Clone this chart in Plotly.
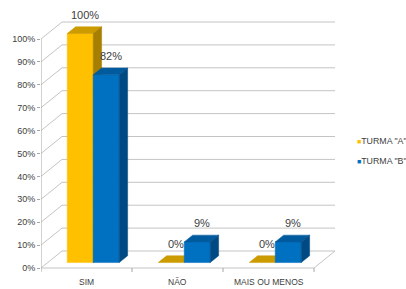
import plotly.graph_objects as go

# ---- data ----
categories = ["SIM", "NÃO", "MAIS OU MENOS"]
series_names = ['TURMA "A"', 'TURMA "B"']
turma_a = [100, 0, 0]
turma_b = [82, 9, 9]
y_ticks = [0, 10, 20, 30, 40, 50, 60, 70, 80, 90, 100]
y_tick_labels = [f"{v}%" for v in y_ticks]
series_values = [turma_a, turma_b]

# ---- style ----
front_colors = ["#FFC000", "#0070C0"]
top_colors = ["#CC9B00", "#005A9E"]
side_colors = ["#A77F00", "#004A84"]
grid_color = "#C4C4C4"
axis_color = "#A6A6A6"
text_color = "#404040"
FONT = "Liberation Sans, Arial, sans-serif"

PXX, PXY = 91.0, 2.29          # pixels per axis unit
ML, MR, MT, MB = 41, 60, 12, 1
W, H = 406, 289
plot_w = W - ML - MR
plot_h = H - MT - MB
y_lo = -(H - MB - 268) / PXY
y_hi = y_lo + plot_h / PXY
x_hi = plot_w / PXX

DX, DY = 21 / PXX, 17 / PXY    # full depth of the 3D box (axis units)
F0, F1 = 0.32, 0.72            # bar front / back depth fractions
BAR_W = 26 / PXX
GROUP_START = 0.5 - BAR_W

n = len(categories)
traces = []

# back-wall gridlines and side-wall diagonals
gx, gy = [], []
for v in y_ticks:
    gx += [DX, n + DX, None, 0, DX, None]
    gy += [v + DY, v + DY, None, v, v + DY, None]
# floor edges
gx += [0, n, n + DX, None]
gy += [0, 0, DY, None]
traces.append(go.Scatter(x=gx, y=gy, mode="lines", line=dict(color=grid_color, width=1),
                         hoverinfo="skip", showlegend=False))
# front value axis and category ticks
ax, ay = [0, 0, None], [0, y_ticks[-1], None]
for k in range(n + 1):
    ax += [k, k, None]
    ay += [0, -4 / PXY, None]
traces.append(go.Scatter(x=ax, y=ay, mode="lines", line=dict(color=axis_color, width=1),
                         hoverinfo="skip", showlegend=False))


def poly(xs, ys, color):
    return go.Scatter(x=xs + [xs[0]], y=ys + [ys[0]], mode="lines", fill="toself",
                      fillcolor=color, line=dict(color=color, width=0.5),
                      hoverinfo="skip", showlegend=False)


annotations = []
bdx, bdy = (F1 - F0) * DX, (F1 - F0) * DY
for i in range(n):
    for s, vals in enumerate(series_values):
        v = vals[i]
        x0 = i + GROUP_START + s * BAR_W + F0 * DX
        x1 = x0 + BAR_W
        y0 = F0 * DY
        y1 = v + F0 * DY
        if v > 0:
            traces.append(poly([x0, x1, x1, x0], [y0, y0, y1, y1], front_colors[s]))
        traces.append(poly([x0, x1, x1 + bdx, x0 + bdx], [y1, y1, y1 + bdy, y1 + bdy], top_colors[s]))
        if v > 0:
            traces.append(poly([x1, x1 + bdx, x1 + bdx, x1], [y0, y0 + bdy, y1 + bdy, y1], side_colors[s]))
        annotations.append(dict(x=(x0 + x1) / 2 + 5 / PXX, y=y1 + bdy + 12 / PXY,
                                text=f"{v}%", showarrow=False, xanchor="center", yanchor="middle",
                                font=dict(size=11, color=text_color, family=FONT)))

for i, c in enumerate(categories):
    annotations.append(dict(x=i + 0.5, y=-14 / PXY, text=c, showarrow=False,
                            xanchor="center", yanchor="middle",
                            font=dict(size=8.5, color=text_color, family=FONT)))

# legend (manual, compact like the original)
for s, name in enumerate(series_names):
    annotations.append(dict(xref="paper", yref="paper",
                            x=(355 - ML) / plot_w, y=(H - MB - (141 + 20 * s)) / plot_h,
                            xanchor="left", yanchor="middle", showarrow=False,
                            text=f'<span style="color:{front_colors[s]};font-size:7px">■</span>{name}',
                            font=dict(size=8.8, color=text_color, family=FONT)))

fig = go.Figure(traces)
fig.update_layout(
    width=W, height=H, template="none",
    margin=dict(l=ML, r=MR, t=MT, b=MB, autoexpand=False),
    paper_bgcolor="white", plot_bgcolor="white", showlegend=False,
    annotations=annotations,
    xaxis=dict(range=[0, x_hi], visible=False, fixedrange=True),
    yaxis=dict(range=[y_lo, y_hi], tickvals=y_ticks, ticktext=y_tick_labels,
               showgrid=False, zeroline=False, showline=False, ticks="outside",
               ticklen=3, tickcolor=axis_color, automargin=False, fixedrange=True,
               tickfont=dict(size=9, color=text_color, family=FONT)),
)
fig.write_html("out.html", config={"displayModeBar": False, "staticPlot": True},
               post_script="document.body.style.margin='0';document.body.style.overflow='hidden';")
